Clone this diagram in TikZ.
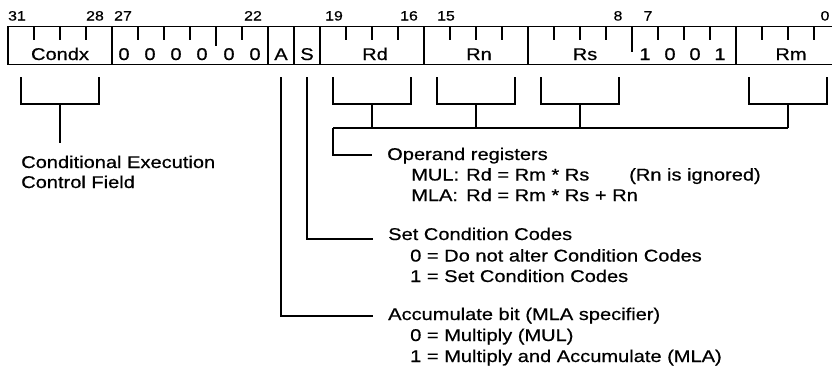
\documentclass[tikz,border=0pt]{standalone}
\usepackage{fontspec}
\setmainfont[FakeStretch=1.18,FakeBold=0.6]{Liberation Sans}
\begin{document}
\begin{tikzpicture}[x=1bp,y=-1bp,
  lbl/.style={inner sep=0pt, anchor=base west, font=\fontsize{17bp}{20bp}\selectfont},
  bitnum/.style={inner sep=0pt, anchor=base, font=\fontsize{13.5bp}{15bp}\selectfont},
  fld/.style={inner sep=0pt, anchor=base, font=\fontsize{17bp}{20bp}\selectfont},
  frame/.style={line width=1.8bp},
  sepline/.style={line width=1.5bp},
  tickline/.style={line width=1.3bp},
  brk/.style={line width=1.5bp}]
\useasboundingbox[fill=white] (0,0) rectangle (832,368);

% ---- bit numbers ----
\foreach \n/\x in {31/17, 28/95, 27/123, 22/253, 19/334, 16/409, 15/446, 8/618, 7/648, 0/825}
  \node[bitnum] (num\n) at (\x,20.5) {\n};

% ---- register frame ----
\coordinate (tl) at (8,26.5);
\coordinate (bl) at (8,64.5);
\coordinate (tr) at (832,26.5);
\coordinate (br) at (832,64.5);
\draw[frame] (tr) -- (tl) -- (bl) -- (br);
\foreach \x in {112,268,294,320,424,528,736}
  \draw[sepline] (\x,26.5) -- (\x,64.5);
\foreach \x in {34,60,86,138,164,190,242,346,372,398,450,476,502,554,580,606,658,684,710,762,788,814}
  \draw[tickline] (\x,26.5) -- (\x,40);
\draw[tickline] (216,26.5) -- (216,46);
\draw[tickline] (632,26.5) -- (632,52);

% ---- field contents ----
\node[fld] (condx) at (60,60) {Condx};
\foreach \i/\x in {1/124,2/150,3/176,4/202,5/229,6/255}
  \node[fld] (zero\i) at (\x,60) {0};
\node[fld] (abit) at (281,60) {A};
\node[fld] (sbit) at (307,60) {S};
\node[fld] (rd) at (375,60) {Rd};
\node[fld] (rn) at (479,60) {Rn};
\node[fld] (rs) at (585,60) {Rs};
\foreach \i/\v/\x in {1/1/645,2/0/670,3/0/695,4/1/720}
  \node[fld] (op\i) at (\x,60) {\v};
\node[fld] (rm) at (791,60) {Rm};

% ---- brackets ----
\foreach \nm/\l/\r in {cond/21/99, brd/333/411, brn/437/515, brs/541/619, brm/749/827} {
  \coordinate (\nm-l) at (\l,77);
  \coordinate (\nm-r) at (\r,77);
  \coordinate (\nm-m) at ({(\l+\r)/2},104);
  \draw[brk] (\nm-l) |- (\nm-m) -| (\nm-r);
}

% condition stem
\coordinate (cond-end) at (60,143);
\draw[brk] (cond-m) -- (cond-end);
\node[lbl] (cond1) at (21,168) {Conditional Execution};
\node[lbl] (cond2) at (21,188) {Control Field};

% operand bus
\coordinate (bus-l) at (333,128);
\coordinate (bus-r) at (788,128);
\draw[brk] (bus-l) -- (bus-r);
\foreach \nm in {brd,brn,brs,brm}
  \draw[brk] (\nm-m) -- (\nm-m |- bus-l);
\coordinate (op-end) at (372,155);
\draw[brk] (bus-l) |- (op-end);
\node[lbl] (optitle) at (387,160) {Operand registers};
\node[lbl] (mul) at (411,180.5) {MUL:};
\node[lbl] (mulf) at (466,180.5) {Rd = Rm * Rs};
\node[lbl] (mulnote) at (629,180.5) {(Rn is ignored)};
\node[lbl] (mla) at (411,201) {MLA:};
\node[lbl] (mlaf) at (466,201) {Rd = Rm * Rs + Rn};

% S bit
\coordinate (s-top) at (307,77);
\coordinate (s-end) at (373,239);
\draw[brk] (s-top) |- (s-end);
\node[lbl] (stitle) at (388,240) {Set Condition Codes};
\node[lbl] (s0) at (410,261.5) {0 = Do not alter Condition Codes};
\node[lbl] (s1) at (410,282) {1 = Set Condition Codes};

% A bit
\coordinate (a-top) at (281,77);
\coordinate (a-end) at (373,316);
\draw[brk] (a-top) |- (a-end);
\node[lbl] (atitle) at (388,320) {Accumulate bit (MLA specifier)};
\node[lbl] (a0) at (410,341) {0 = Multiply (MUL)};
\node[lbl] (a1) at (410,362) {1 = Multiply and Accumulate (MLA)};
\end{tikzpicture}
\end{document}
